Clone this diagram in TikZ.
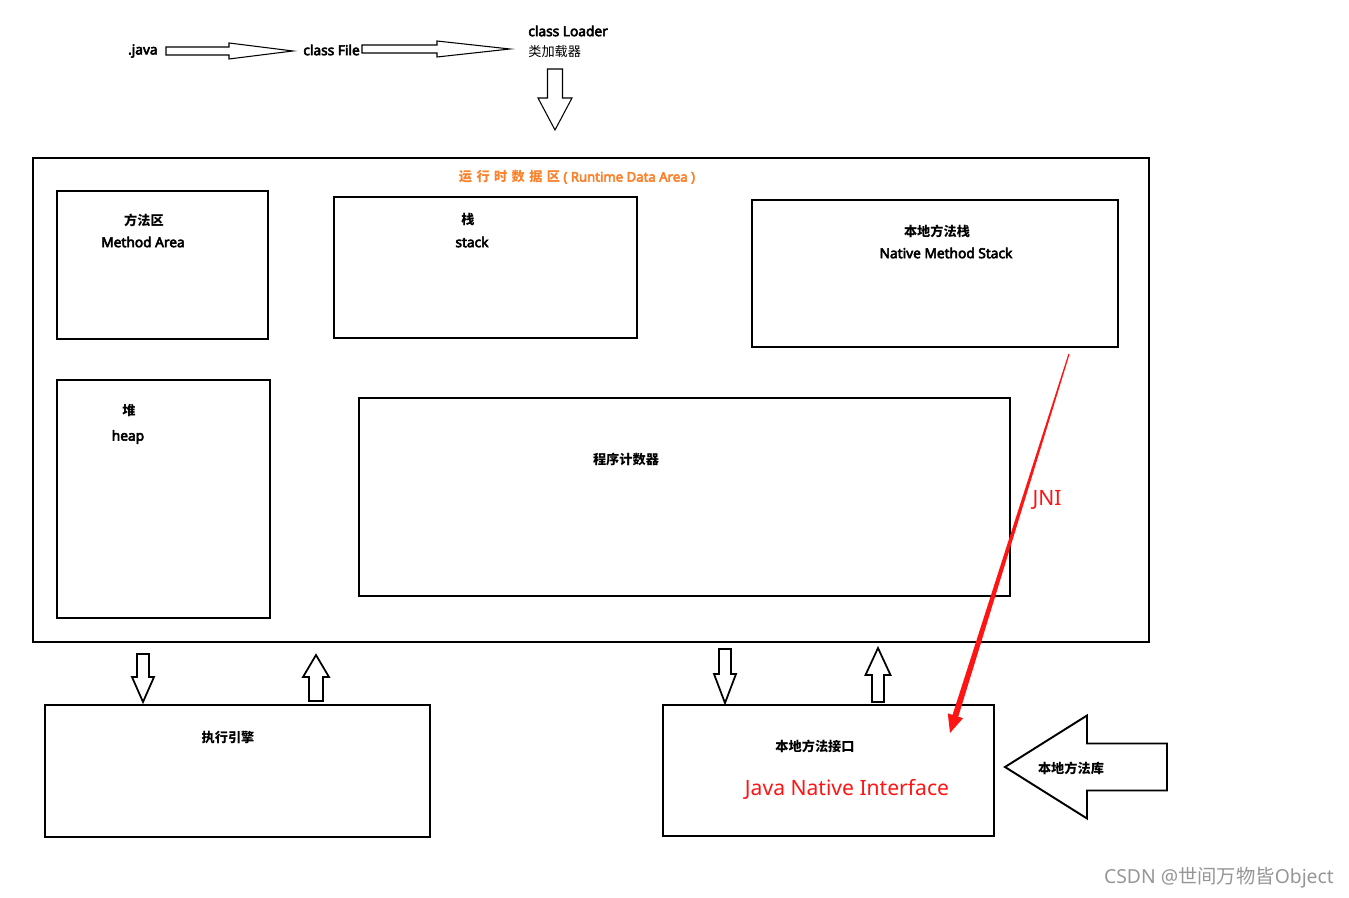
\documentclass[tikz,border=0pt]{standalone}
\usepackage{fontspec}
\setmainfont{Noto Sans}[AutoFakeBold=4]
\newfontfamily\cjk{Noto Sans CJK SC}
\usepackage{tikz}
\usetikzlibrary{
  calc,%
  fit,%
  positioning
}
\definecolor{jnired}{RGB}{255,20,20}
\definecolor{rdaorange}{RGB}{250,130,45}
\definecolor{wmgray}{RGB}{150,150,150}
\tikzset{>=latex}
\tikzset{
  box/.style={draw, line width=1.2pt, inner sep=0pt, outer sep=0pt},
  lbl/.style={inner sep=0pt, font=\fontsize{7.8}{9}\selectfont\bfseries},
  zh/.style={inner sep=0pt, font=\fontsize{7.5}{9}\selectfont\cjk\bfseries},
  thinarrow/.style={draw=black, line width=.6pt, fill=white, line join=miter},
  hollow/.style={draw=black, line width=1pt, fill=white, line join=miter},
  jniarrow/.style={fill=jnired, draw=none},
}
% block arrow: [style]{from}{to}{shaft start}{shaft end}{head}{head length}, sizes in px
\newcommand{\blockarrow}[7][hollow]{%
  \path[#1] let \p1=(#2), \p2=(#3),
      \n1={atan2(\y2-\y1,\x2-\x1)}, \n2={veclen(\x2-\x1,\y2-\y1)},
      \n3={#4*0.02cm}, \n4={#5*0.02cm}, \n5={#6*0.02cm}, \n6={\n2-#7*0.02cm}
    in [shift={(\p1)}, rotate=\n1]
    (0pt,-\n3) -- (\n6,-\n4) -- (\n6,-\n5) -- (\n2,0pt) -- (\n6,\n5)
    -- (\n6,\n4) -- (0pt,\n3) -- cycle;}

\begin{document}
\begin{tikzpicture}[x=0.02cm, y=-0.02cm]
  \useasboundingbox (0,0) rectangle (1349,898);

  % source -> class file -> loader
  \node[lbl, anchor=east] (java) at (158,51) {.java};
  \node[lbl, anchor=west] (cfile) at (303,50) {class File};
  \node[lbl, anchor=west] (loader) at (528,31) {class Loader};
  \node[zh, anchor=west, font=\fontsize{7.5}{9}\selectfont\cjk] (loaderzh) at (528,52) {类加载器};

  % runtime data area
  \node[box, fit={(33,158) (1149,642)}] (rda) {};
  \node[inner sep=0pt, text=rdaorange, font=\fontsize{7.5}{9}\selectfont\bfseries] (rdatitle) at (577,177)
    {{\cjk 运\kern2.5pt 行\kern2.5pt 时\kern2.5pt 数\kern2.5pt 据\kern2.5pt 区} ( Runtime Data Area )};

  \node[box, fit={(57,191) (268,339)}] (ma) {};
  \node[zh] (mazh) at (144,220) {方法区};
  \node[lbl] (maen) at (143,242) {Method Area};

  \node[box, fit={(334,197) (637,338)}] (stk) {};
  \node[zh] (stkzh) at (468,220) {栈};
  \node[lbl] (stken) at (472,242) {stack};

  \node[box, fit={(752,200) (1118,347)}] (nms) {};
  \node[zh] (nmszh) at (937,231) {本地方法栈};
  \node[lbl] (nmsen) at (946,253) {Native Method Stack};

  \node[box, fit={(57,380) (270,618)}] (heap) {};
  \node[zh] (heapzh) at (129,411) {堆};
  \node[lbl] (heapen) at (128,437) {heap};

  \node[box, fit={(359,398) (1010,596)}] (pc) {};
  \node[zh] (pczh) at (626,459) {程序计数器};

  % engine and native interface
  \node[box, fit={(45,705) (430,837)}] (ee) {};
  \node[zh] (eezh) at (228,738) {执行引擎};

  \node[box, fit={(663,705) (994,836)}] (jni) {};
  \node[zh] (jnizh) at (815,746) {本地方法接口};
  \node[inner sep=0pt, text=jnired, font=\fontsize{12}{14}\selectfont] (jnien) at (847,789) {Java Native Interface};

  \coordinate (libsrc) at (1167,767);

  % block arrows
  \blockarrow[thinarrow]{$(java.east)+(8,0)$}{$(cfile.west)+(-10,1)$}{4}{4}{8}{64}
  \blockarrow[thinarrow]{$(cfile.west)+(59,-1)$}{$(loaderzh.west)+(-18,-3)$}{4}{4}{8}{73}
  \blockarrow[thinarrow]{$(loaderzh.west)+(27,17)$}{$(rda.north west)+(522,-28)$}{7.5}{7.5}{17}{32}

  \blockarrow{$(rda.south west)+(110,12)$}{$(ee.north west)+(98,-3)$}{6}{6}{11}{25}
  \blockarrow{$(ee.north west)+(271,-4)$}{$(rda.south west)+(283,13)$}{7}{7}{13}{22}
  \blockarrow{$(rda.south west)+(692,7)$}{$(jni.north west)+(62,-2)$}{6}{6}{11}{29}
  \blockarrow{$(jni.north west)+(215,-3)$}{$(rda.south west)+(845,6)$}{6}{6}{12.5}{27}
  \blockarrow[hollow, line width=1.1pt]{libsrc}{$(jni.east)+(11,-3.5)$}{23.5}{23.5}{51.5}{82}
  \node[zh] (lib) at (1071,768) {本地方法库};

  % JNI call
  \blockarrow[jniarrow]{$(nms.south east)+(-49,7)$}{$(jni.north west)+(287,28)$}{0.6}{3}{8}{18}
  \node[inner sep=0pt, text=jnired, font=\fontsize{12}{14}\selectfont] (jnilbl) at (1047,500) {JNI};

  \node[inner sep=0pt, text=wmgray, font=\fontsize{11}{13}\selectfont] (wm) at (1219,878)
    {CSDN @{\cjk 世间万物皆}Object};
\end{tikzpicture}
\end{document}
